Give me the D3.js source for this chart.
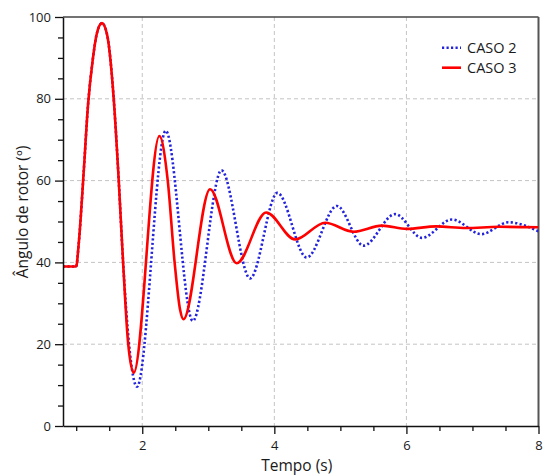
<!DOCTYPE html>
<html>
<head>
<meta charset="utf-8">
<script src="https://cdn.jsdelivr.net/npm/d3@7/dist/d3.min.js"></script>
<style>
  html, body { margin: 0; padding: 0; background: #fff; }
  svg { display: block; }
  text { font-family: "Open Sans", "Noto Sans", sans-serif; fill: #1a1a1a; }
</style>
</head>
<body>
<svg id="chart" width="543" height="475"></svg>
<script>
// ---- data ----
const caso3Time = [0.8, 1.0, 1.035, 1.113, 1.179, 1.25, 1.31, 1.39, 1.47, 1.568, 1.644, 1.71, 1.785, 1.871, 2.259, 2.386, 2.49, 2.573, 2.623, 3.027, 3.43, 3.876, 4.315, 4.77, 5.199, 5.628, 6.007, 6.45, 6.9, 7.4, 8.0];
const caso3Angle = [39, 39, 44, 62, 78.5, 89.5, 95.8, 98.5, 95.5, 80, 60, 40, 20.5, 13.0, 70.9, 60, 40, 28.4, 26.1, 57.9, 39.8, 52.2, 45.6, 49.7, 47.5, 49.0, 48.2, 48.8, 48.4, 48.7, 48.6];

const caso2Time = [0.8, 1.0, 1.035, 1.113, 1.179, 1.25, 1.31, 1.39, 1.47, 1.568, 1.644, 1.71, 1.80, 1.921, 2.356, 2.765, 3.2, 3.633, 4.047, 4.49, 4.947, 5.35, 5.83, 6.235, 6.69, 7.133, 7.547, 8.0];
const caso2Angle = [39, 39, 44, 62, 78.5, 89.5, 95.8, 98.5, 95.5, 80, 60, 40, 20, 9.6, 72.2, 25.7, 62.5, 36.1, 57.0, 41.2, 53.8, 44.1, 51.8, 46.0, 50.5, 46.9, 49.8, 47.6];

const xMajorTicks = [2, 4, 6, 8];
const xMinorTicks = [1, 1.5, 2.5, 3, 3.5, 4.5, 5, 5.5, 6.5, 7, 7.5];
const yMajorTicks = [0, 20, 40, 60, 80, 100];
const yMinorTicks = [5, 10, 15, 25, 30, 35, 45, 50, 55, 65, 70, 75, 85, 90, 95];
const legendLabels = ["CASO 2", "CASO 3"];
const xTitle = "Tempo (s)";
const yTitle = "Ângulo de rotor (º)";

// ---- layout ----
const L = 63, R = 538.5, T = 17, B = 426;
const svg = d3.select("#chart");
const x = d3.scaleLinear().domain([0.8, 8]).range([L, R]);
const y = d3.scaleLinear().domain([0, 100]).range([B, T]);

// grid
const grid = svg.append("g");
grid.selectAll("line.gx").data(xMajorTicks.filter(d => d < 8)).join("line")
  .attr("x1", d => x(d)).attr("x2", d => x(d)).attr("y1", T).attr("y2", B)
  .attr("stroke", "#c4c4c4").attr("stroke-width", 1).attr("stroke-dasharray", "4,3");
grid.selectAll("line.gy").data(yMajorTicks.filter(d => d > 0 && d < 100)).join("line")
  .attr("y1", d => y(d)).attr("y2", d => y(d)).attr("x1", L).attr("x2", R)
  .attr("stroke", "#c4c4c4").attr("stroke-width", 1).attr("stroke-dasharray", "4,3");

// frame top/right
svg.append("line").attr("x1", L).attr("x2", R).attr("y1", T).attr("y2", T)
  .attr("stroke", "#444").attr("stroke-width", 1.5);
svg.append("line").attr("x1", R).attr("x2", R).attr("y1", T).attr("y2", B)
  .attr("stroke", "#555").attr("stroke-width", 2);

// clip
svg.append("defs").append("clipPath").attr("id", "clip")
  .append("rect").attr("x", L).attr("y", T - 2).attr("width", R - L).attr("height", B - T + 4);

const line = d3.line().x(d => x(d[0])).y(d => y(d[1])).curve(d3.curveMonotoneX);
const plot = svg.append("g").attr("clip-path", "url(#clip)");
plot.append("path").datum(caso2Time.map((t, i) => [t, caso2Angle[i]]))
  .attr("d", line).attr("fill", "none").attr("stroke", "#2323dc")
  .attr("stroke-width", 2.6).attr("stroke-dasharray", "2.2,2.3");
plot.append("path").datum(caso3Time.map((t, i) => [t, caso3Angle[i]]))
  .attr("d", line).attr("fill", "none").attr("stroke", "#ff0000")
  .attr("stroke-width", 2.6).attr("stroke-linejoin", "round");

// axes
const styleAxis = g => {
  g.select(".domain").attr("stroke", "#111").attr("stroke-width", 1.5);
  g.selectAll(".tick line").attr("stroke", "#111").attr("stroke-width", 1.3);
  g.selectAll(".tick text").style("font-size", "13px").attr("fill", "#1a1a1a");
};
const xAxisG = svg.append("g").attr("transform", `translate(0,${B})`)
  .call(d3.axisBottom(x).tickValues(xMajorTicks).tickSize(8).tickSizeOuter(0).tickPadding(7).tickFormat(d3.format("d")));
styleAxis(xAxisG);
svg.append("g").attr("transform", `translate(0,${B})`)
  .call(d3.axisBottom(x).tickValues(xMinorTicks).tickSize(5).tickSizeOuter(0).tickFormat(""))
  .call(g => { g.select(".domain").remove(); g.selectAll(".tick line").attr("stroke", "#111").attr("stroke-width", 1.3); });

const yAxisG = svg.append("g").attr("transform", `translate(${L},0)`)
  .call(d3.axisLeft(y).tickValues(yMajorTicks).tickSize(8).tickSizeOuter(0).tickPadding(4).tickFormat(d3.format("d")));
styleAxis(yAxisG);
svg.append("g").attr("transform", `translate(${L},0)`)
  .call(d3.axisLeft(y).tickValues(yMinorTicks).tickSize(5).tickSizeOuter(0).tickFormat(""))
  .call(g => { g.select(".domain").remove(); g.selectAll(".tick line").attr("stroke", "#111").attr("stroke-width", 1.3); });

// titles
svg.append("text").attr("x", (L + R) / 2 - 4).attr("y", 471).attr("text-anchor", "middle")
  .style("font-size", "15.5px").text(xTitle);
svg.append("text").attr("transform", `translate(28,212) rotate(-90)`)
  .attr("text-anchor", "middle").style("font-size", "15.5px").text(yTitle);

// legend
const leg = svg.append("g");
const legY = [47.7, 67.7];
leg.append("line").attr("x1", 442).attr("x2", 461).attr("y1", legY[0]).attr("y2", legY[0])
  .attr("stroke", "#2323dc").attr("stroke-width", 2.6).attr("stroke-dasharray", "2.2,2.3");
leg.append("line").attr("x1", 442).attr("x2", 461).attr("y1", legY[1]).attr("y2", legY[1])
  .attr("stroke", "#ff0000").attr("stroke-width", 2.6);
leg.selectAll("text").data(legendLabels).join("text")
  .attr("x", 467).attr("y", (d, i) => legY[i]).attr("dy", "0.36em")
  .style("font-size", "14.5px").text(d => d);
</script>
</body>
</html>
